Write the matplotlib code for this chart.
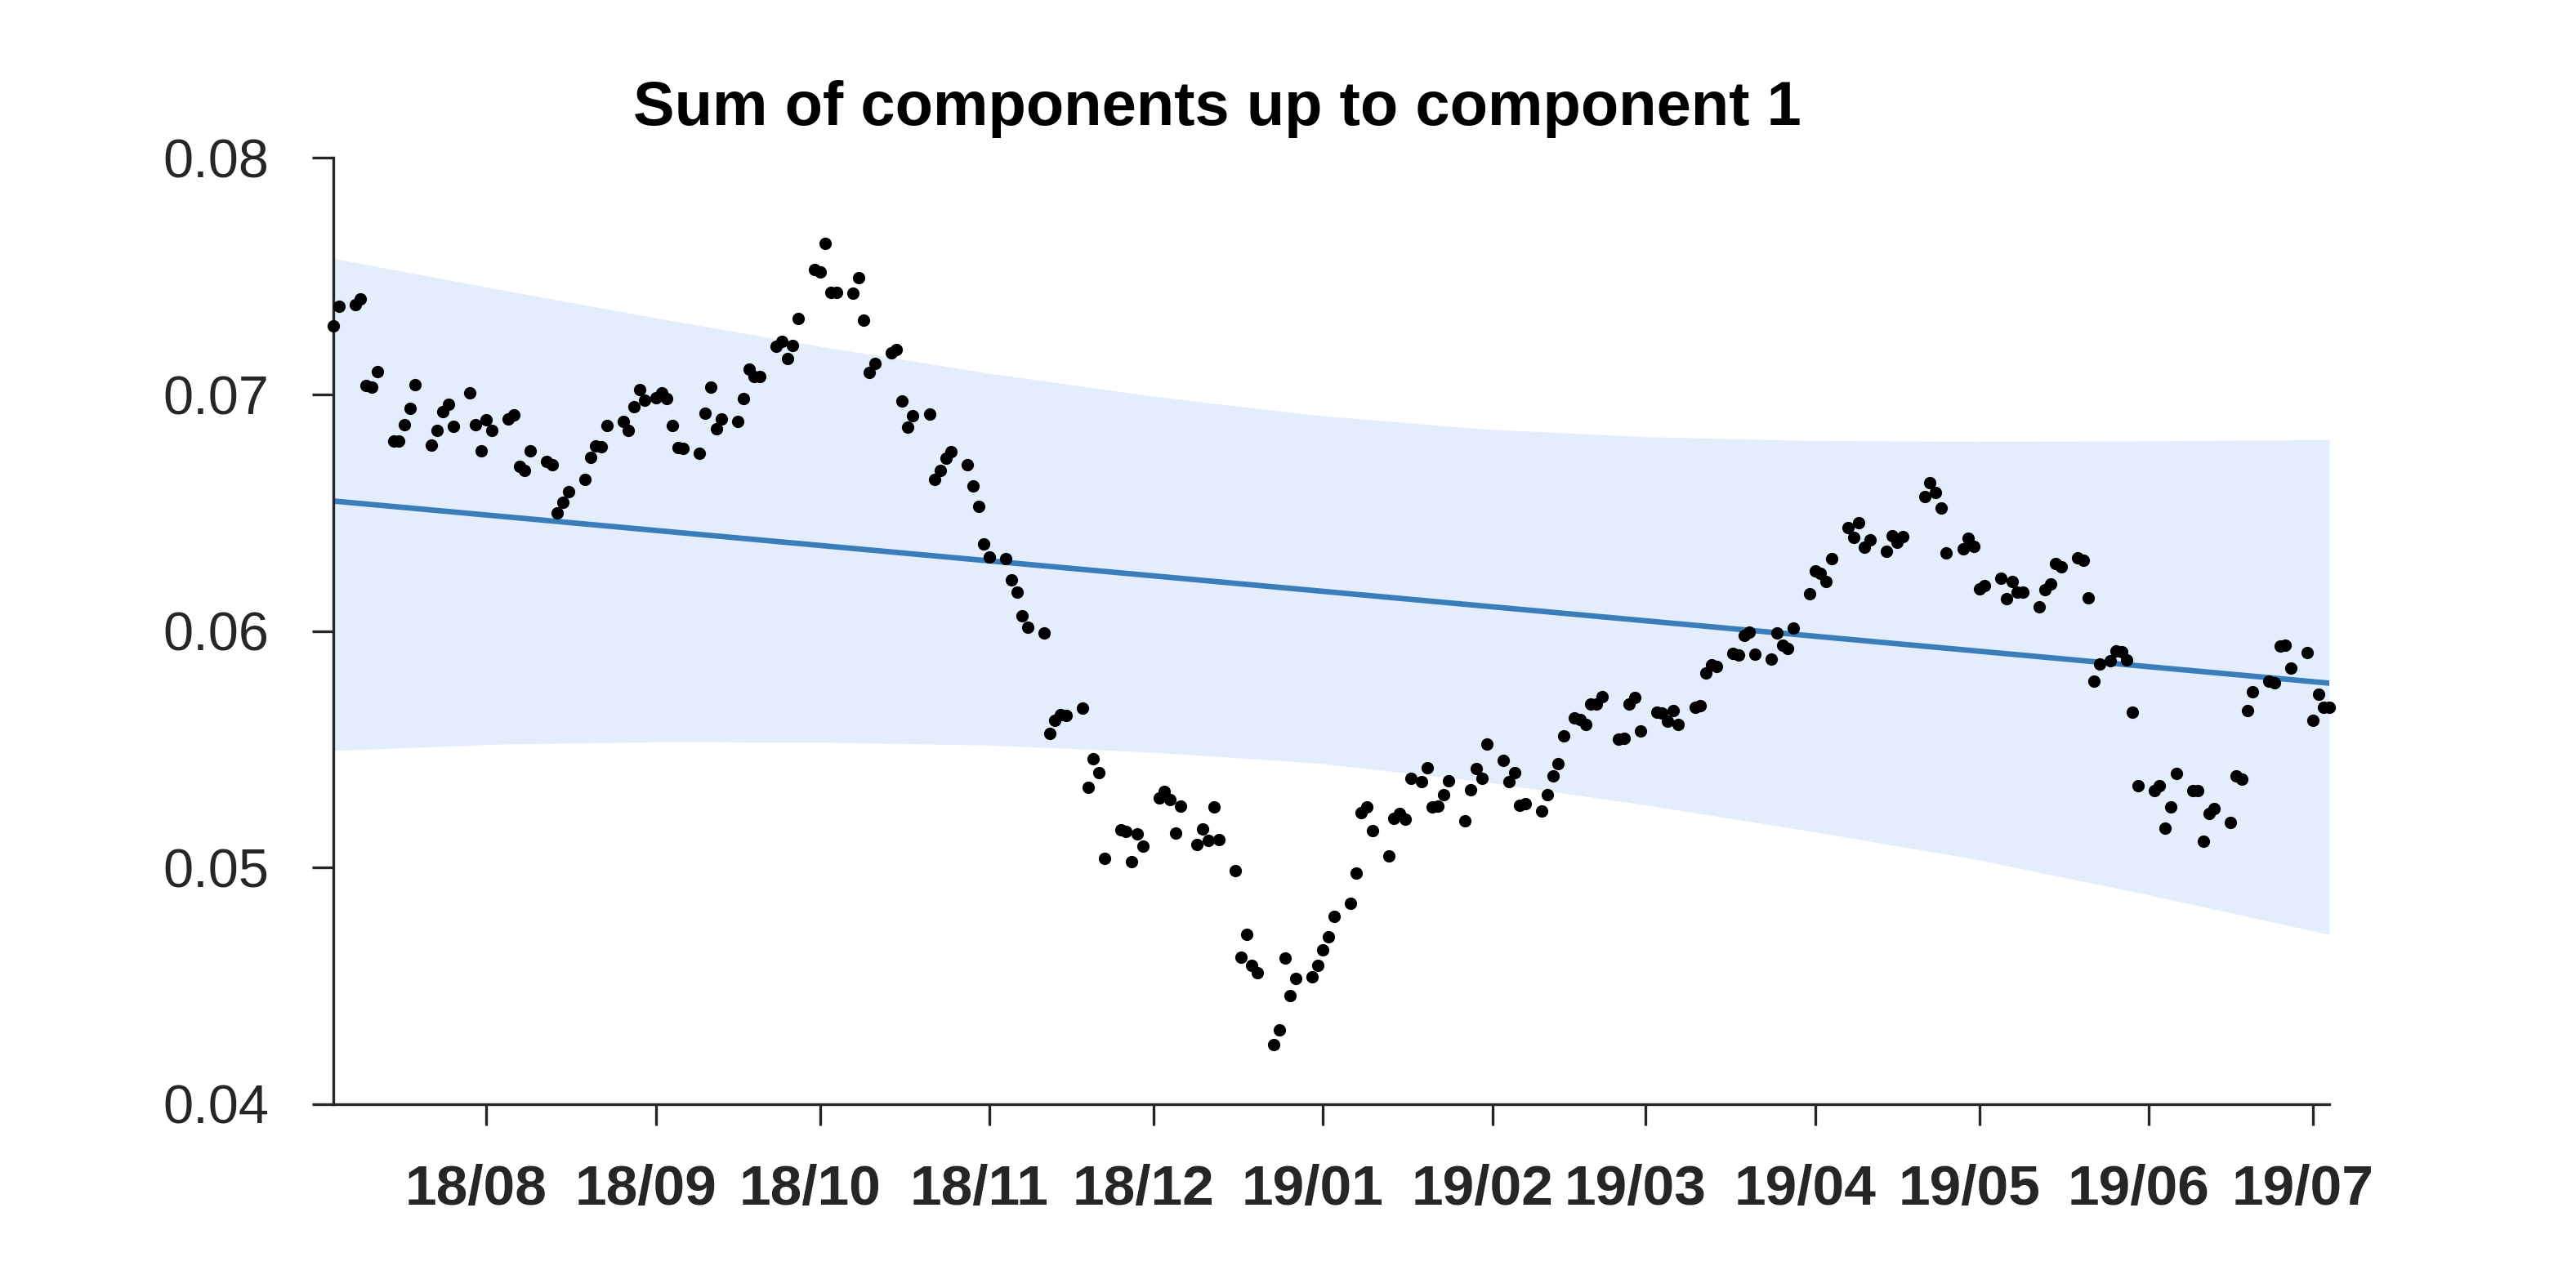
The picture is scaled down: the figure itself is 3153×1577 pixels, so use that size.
import numpy as np
import pandas as pd
import matplotlib
matplotlib.use("Agg")
import matplotlib.pyplot as plt
import matplotlib.dates as mdates
import matplotlib.transforms as mtransforms

plt.rcParams['font.family'] = ['Liberation Sans', 'DejaVu Sans']

start = pd.Timestamp("2018-07-04")

day_offset = [
    0, 1, 4, 5, 6, 7, 8, 11, 12, 13, 14, 15, 18, 19, 20, 21, 22, 25, 26, 27, 28, 29,
    32, 33, 34, 35, 36, 39, 40, 41, 42, 43, 46, 47, 48, 49, 50, 53, 54, 55, 56, 57,
    59, 60, 61, 62, 63, 64, 67, 68, 69, 70, 71, 74, 75, 76, 77, 78, 81, 82, 83, 84, 85,
    88, 89, 90, 91, 92, 95, 96, 97, 98, 99, 102, 103, 104, 105, 106, 109, 110, 111, 112, 113,
    116, 117, 118, 119, 120, 123, 124, 125, 126, 127, 130, 131, 132, 133, 134,
    137, 138, 139, 140, 141, 144, 145, 146, 147, 148, 151, 152, 153, 154, 155,
    158, 159, 160, 161, 162, 165, 166, 167, 168, 169, 172, 173, 174, 175, 176,
    179, 180, 181, 182, 183, 186, 187, 188, 189, 190, 193, 194, 195, 196, 197,
    199, 200, 201, 202, 203, 204, 207, 208, 209, 210, 211, 214, 215, 216, 217, 218,
    221, 222, 223, 224, 225, 227, 228, 229, 230, 231, 232, 235, 236, 237, 238, 239,
    242, 243, 244, 245, 246, 249, 250, 251, 252, 253, 256, 257, 258, 259, 260,
    263, 264, 265, 266, 267, 270, 271, 272, 273, 274, 277, 278, 279, 280, 281,
    284, 285, 286, 287, 291, 292, 293, 294, 295, 298, 299, 300, 301, 302,
    305, 306, 307, 308, 309, 312, 313, 314, 315, 316, 319, 320, 321, 322, 323,
    325, 326, 327, 328, 329, 330, 333, 334, 335, 336, 337, 340, 341, 342, 343, 344,
    347, 348, 349, 350, 351, 354, 355, 356, 357, 358, 361, 362, 363, 364, 365,
]
values = [
    0.07289, 0.07375, 0.07379, 0.07405, 0.07037, 0.07030, 0.07097, 0.06804, 0.06804, 0.06874,
    0.06942, 0.07042, 0.06787, 0.06850, 0.06928, 0.06958, 0.06866, 0.07009, 0.06872, 0.06763,
    0.06892, 0.06847, 0.06897, 0.06913, 0.06695, 0.06679, 0.06761, 0.06718, 0.06703, 0.06500,
    0.06545, 0.06591, 0.06642, 0.06734, 0.06784, 0.06780, 0.06870, 0.06887, 0.06850, 0.06947,
    0.07022, 0.06976, 0.06988, 0.07009, 0.06984, 0.06870, 0.06776, 0.06774, 0.06751, 0.06922,
    0.07033, 0.06857, 0.06896, 0.06888, 0.06982, 0.07108, 0.07076, 0.07075, 0.07204, 0.07224,
    0.07153, 0.07208, 0.07320, 0.07529, 0.07520, 0.07639, 0.07431, 0.07431, 0.07427, 0.07495,
    0.07314, 0.07094, 0.07131, 0.07176, 0.07190, 0.06973, 0.06863, 0.06911, 0.06916, 0.06641,
    0.06680, 0.06731, 0.06758, 0.06703, 0.06615, 0.06529, 0.06367, 0.06312, 0.06308, 0.06218,
    0.06166, 0.06064, 0.06018, 0.05991, 0.05568, 0.05622, 0.05647, 0.05644, 0.05674, 0.05341,
    0.05462, 0.05400, 0.05040, 0.05161, 0.05153, 0.05026, 0.05142, 0.05092, 0.05294, 0.05324,
    0.05288, 0.05147, 0.05260, 0.05097, 0.05163, 0.05114, 0.05256, 0.05118, 0.04986, 0.04622,
    0.04717, 0.04587, 0.04557, 0.04252, 0.04314, 0.04619, 0.04459, 0.04532, 0.04539, 0.04586,
    0.04652, 0.04707, 0.04793, 0.04850, 0.04976, 0.05232, 0.05257, 0.05157, 0.05049, 0.05208,
    0.05230, 0.05204, 0.05377, 0.05363, 0.05421, 0.05256, 0.05260, 0.05310, 0.05368, 0.05198,
    0.05330, 0.05420, 0.05377, 0.05524, 0.05453, 0.05364, 0.05400, 0.05262, 0.05269, 0.05239,
    0.05308, 0.05389, 0.05440, 0.05557, 0.05632, 0.05625, 0.05607, 0.05691, 0.05691, 0.05723,
    0.05545, 0.05548, 0.05692, 0.05721, 0.05579, 0.05657, 0.05655, 0.05620, 0.05664, 0.05606,
    0.05678, 0.05685, 0.05823, 0.05859, 0.05850, 0.05906, 0.05900, 0.05982, 0.05997, 0.05902,
    0.05881, 0.05993, 0.05939, 0.05927, 0.06012, 0.06159, 0.06256, 0.06245, 0.06208, 0.06305,
    0.06439, 0.06397, 0.06458, 0.06355, 0.06387, 0.06339, 0.06404, 0.06374, 0.06398, 0.06570,
    0.06628, 0.06586, 0.06519, 0.06329, 0.06347, 0.06392, 0.06357, 0.06178, 0.06193, 0.06224,
    0.06138, 0.06209, 0.06166, 0.06164, 0.06102, 0.06176, 0.06200, 0.06286, 0.06273, 0.06310,
    0.06298, 0.06139, 0.05789, 0.05861, 0.05874, 0.05916, 0.05913, 0.05879, 0.05657, 0.05348,
    0.05325, 0.05346, 0.05166, 0.05257, 0.05397, 0.05325, 0.05325, 0.05112, 0.05228, 0.05250,
    0.05192, 0.05388, 0.05373, 0.05664, 0.05742, 0.05787, 0.05781, 0.05938, 0.05941, 0.05845,
    0.05908, 0.05623, 0.05732, 0.05679, 0.05679,
]

# fitted trend (end points) and uncertainty band edges
trend_days = [0, 365]
trend_values = [0.06550, 0.05780]
band_days = [0, 30, 60, 90, 120, 150, 180, 210, 240, 270, 300, 330, 365]
upper_values = [0.07576, 0.07446, 0.07320, 0.07200, 0.07090, 0.06993, 0.06912,
                0.06855, 0.06822, 0.06806, 0.06802, 0.06804, 0.06810]
lower_values = [0.05495, 0.05522, 0.05532, 0.05530, 0.05518, 0.05488, 0.05442,
                0.05365, 0.05265, 0.05155, 0.05037, 0.04895, 0.04718]

to_dates = lambda d: start + pd.to_timedelta(d, unit="D")
dates = to_dates(day_offset)

fig = plt.figure(figsize=(15.765, 7.885), dpi=200)
ax = fig.add_axes([0.1294, 0.1427, 0.7748, 0.7346])

ax.fill_between(to_dates(band_days), lower_values, upper_values, color='#e4edfc',
                linewidth=0, zorder=1)
ax.plot(to_dates(trend_days), trend_values, color='#3a7dbb', linewidth=2.4, zorder=2)
ax.scatter(dates, values, s=30, color='black', linewidths=0, zorder=3, clip_on=False)

ax.set_xlim(to_dates(0), to_dates(365))
ax.set_ylim(0.04, 0.08)
ax.set_yticks([0.04, 0.05, 0.06, 0.07, 0.08])
ax.set_yticklabels(["0.04", "0.05", "0.06", "0.07", "0.08"])
ax.xaxis.set_major_locator(mdates.MonthLocator())
ax.xaxis.set_major_formatter(mdates.DateFormatter('%y/%m'))

for side in ['top', 'right']:
    ax.spines[side].set_visible(False)
for side in ['left', 'bottom']:
    ax.spines[side].set_linewidth(1.2)
    ax.spines[side].set_color('#262626')

ax.tick_params(axis='both', direction='out', length=9.4, width=1.2, color='#262626')
ax.tick_params(axis='y', labelsize=24, pad=19, labelcolor='#262626')
ax.tick_params(axis='x', labelsize=25, pad=17, labelcolor='#262626')
shift = mtransforms.ScaledTranslation(-4.5 / 72, 0, fig.dpi_scale_trans)
for lbl in ax.get_xticklabels():
    lbl.set_fontweight('bold')
    lbl.set_transform(lbl.get_transform() + shift)

fig.text(0.4726, 0.9030, "Sum of components up to component 1", ha='center', va='baseline',
         fontsize=27.3, fontweight='bold', color='black')

fig.savefig("out.png", dpi=200)
